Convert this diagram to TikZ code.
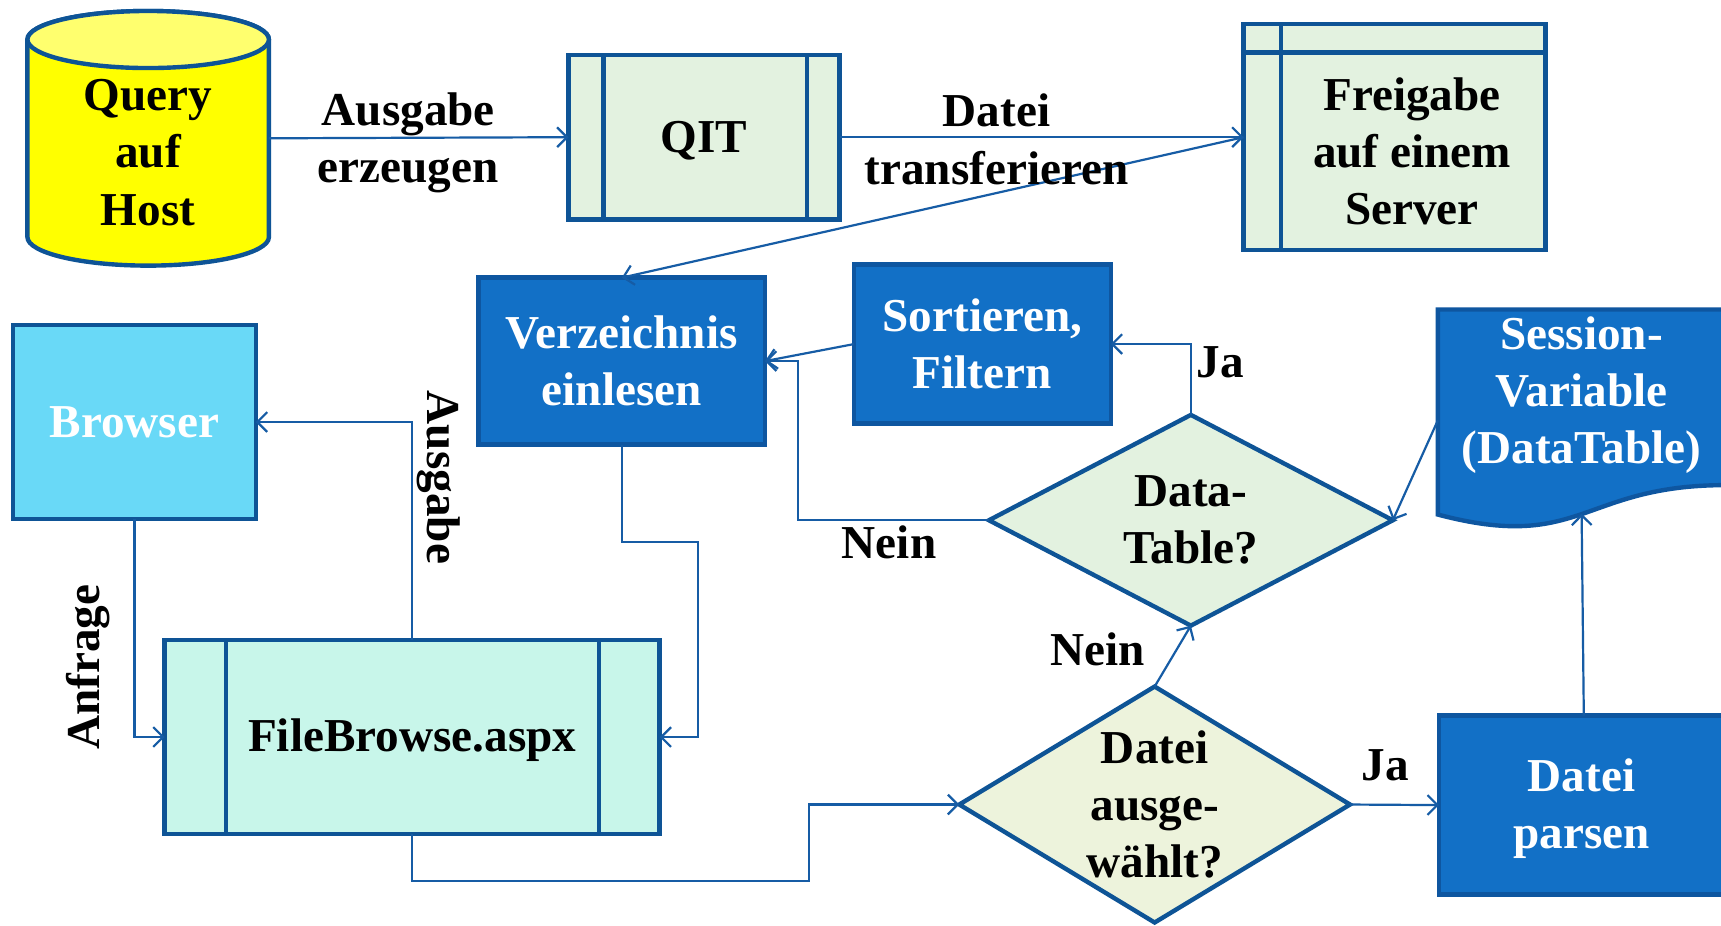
\documentclass[tikz,border=0pt]{standalone}
\usepackage{fontspec}
\setmainfont{Liberation Serif}
\usetikzlibrary{arrows.meta,shapes.geometric,calc}
\definecolor{bord}{RGB}{14,84,150}
\definecolor{linkc}{RGB}{22,92,165}
\definecolor{boxblue}{RGB}{18,112,198}
\definecolor{boxblueb}{RGB}{14,86,160}
\definecolor{palegreen}{RGB}{227,242,224}
\definecolor{paleyel}{RGB}{237,243,220}
\definecolor{aqua}{RGB}{200,246,234}
\definecolor{skyb}{RGB}{105,217,247}
\definecolor{cyly}{RGB}{255,255,0}
\definecolor{cylt}{RGB}{255,255,110}
\begin{document}
\begin{tikzpicture}[x=1pt,y=-1pt,
  every node/.style={font=\fontsize{43}{52}\selectfont\bfseries, inner sep=0pt, outer sep=0pt},
  txt/.style={align=center, text=black},
  wtxt/.style={align=center, text=white},
  greenbox/.style={rectangle, draw=bord, line width=4pt, fill=palegreen},
  bluebox/.style={rectangle, draw=boxblueb, line width=4pt, fill=boxblue},
  inner/.style={draw=bord, line width=4pt},
  link/.style={draw=linkc, line width=2pt, -{Straight Barb[length=9pt,width=18pt]}}
]
\fill[white] (0,0) rectangle (1568,843);
\useasboundingbox (0,0) rectangle (1568,843);

% cylinder
\path[draw=bord, line width=4pt, fill=cyly] (25,36) -- (25,216)
  arc[start angle=180, end angle=0, x radius=110, y radius=26] -- (245,36)
  arc[start angle=0, end angle=-180, x radius=110, y radius=26] -- cycle;
\draw[bord, line width=4pt, fill=cylt] (135,36) ellipse [x radius=110, y radius=26];
\node[minimum width=220pt, minimum height=232pt,
  label={[txt, yshift=-13pt]center:{Query\\auf\\Host}}] (host) at (135,126) {};

% QIT
\node[greenbox, minimum width=247pt, minimum height=150pt,
  label={[txt, yshift=-3pt]center:QIT}] (qit) at (641.5,125) {};
\draw[inner] ([xshift=32pt]qit.north west) -- ([xshift=32pt]qit.south west);
\draw[inner] ([xshift=-30pt]qit.north east) -- ([xshift=-30pt]qit.south east);

% Freigabe
\node[greenbox, minimum width=275pt, minimum height=206pt,
  label={[txt, xshift=16pt, yshift=-13pt]center:{Freigabe\\auf einem\\Server}}] (frei) at (1270.5,125) {};
\draw[inner] ([xshift=34pt]frei.north west) -- ([xshift=34pt]frei.south west);
\draw[inner] ([yshift=-26pt]frei.north west) -- ([yshift=-26pt]frei.north east);

% Verzeichnis
\node[bluebox, minimum width=261pt, minimum height=152pt,
  label={[wtxt]center:{Verzeichnis\\einlesen}}] (verz) at (566.5,329) {};

% Browser
\node[rectangle, draw=bord, line width=4pt, fill=skyb, minimum width=221pt, minimum height=177pt,
  label={[wtxt]center:Browser}] (browser) at (122.5,384.5) {};

% Sortieren
\node[bluebox, minimum width=234pt, minimum height=145pt,
  label={[wtxt]center:{Sortieren,\\Filtern}}] (sort) at (895,313.5) {};

% FileBrowse
\node[rectangle, draw=bord, line width=4pt, fill=aqua, minimum width=451pt, minimum height=177pt,
  label={[txt, yshift=-3pt]center:FileBrowse.aspx}] (fb) at (375.5,671.5) {};
\draw[inner] ([xshift=56pt]fb.north west) -- ([xshift=56pt]fb.south west);
\draw[inner] ([xshift=-55pt]fb.north east) -- ([xshift=-55pt]fb.south east);

% Datei parsen
\node[bluebox, minimum width=264pt, minimum height=163pt,
  label={[wtxt, xshift=-2pt, yshift=-3pt]center:{Datei\\parsen}}] (parsen) at (1443,733.5) {};

% Session variable (document shape)
\node[minimum width=262pt, minimum height=186pt] (sess) at (1441,375) {};
\draw[draw=boxblueb, line width=4pt, fill=boxblue] (sess.north west) -- (sess.north east)
  -- (1572,442) .. controls (1441,442) and (1441,503.5) .. (1310,468.8) -- cycle;
\node[wtxt] (sesstext) at (1441,360) {Session-\\Variable\\(DataTable)};

% diamonds
\node[diamond, draw=bord, line width=4pt, fill=palegreen, minimum width=368pt, minimum height=192pt,
  label={[txt]center:{Data-\\Table?}}] (dt) at (1085,474) {};
\node[diamond, draw=bord, line width=4pt, fill=paleyel, minimum width=356pt, minimum height=215pt,
  label={[txt]center:{Datei\\ausge-\\wählt?}}] (dad) at (1052,733) {};

% connectors
\draw[link] (host.east) -- (qit.west);
\draw[link] (qit.east) -- (frei.west);
\draw[link] (frei.west) -- (verz.north);
\draw[link] (browser.south) |- (fb.west);
\draw[link] (fb.north) |- (browser.east);
\coordinate (c3) at (636,494);
\draw[link] (verz.south) |- (c3) |- (fb.east);
\coordinate (c4) at (737,803);
\draw[link] (fb.south) |- (c4) |- (dad.west);
\draw[link] (dad.east) -- (parsen.west);
\draw[link] (dad.north) -- (dt.south);
\draw[link] (dt.north) |- (sort.east);
\coordinate (c8) at (727,329);
\draw[link] (dt.west) -| (c8) -- (verz.east);
\draw[link] (sort.west) -- (verz.east);
\draw[link] (parsen.north) -- (sess.south);
\draw[link] ($(sess.west)+(0,8)$) -- (dt.east);

% labels
\node[txt] (l1) at (372,130) {Ausgabe\\erzeugen};
\node[txt] (l2) at (908,127) {Datei\\transferieren};
\node (l3) at (1112,330) {Ja};
\node (l4) at (810,494) {Nein};
\node (l5) at (1000,592) {Nein};
\node (l6) at (1262,697) {Ja};
\node[rotate=90] (l7) at (80,608) {Anfrage};
\node[rotate=-90] (l8) at (400,435) {Ausgabe};
\end{tikzpicture}
\end{document}
